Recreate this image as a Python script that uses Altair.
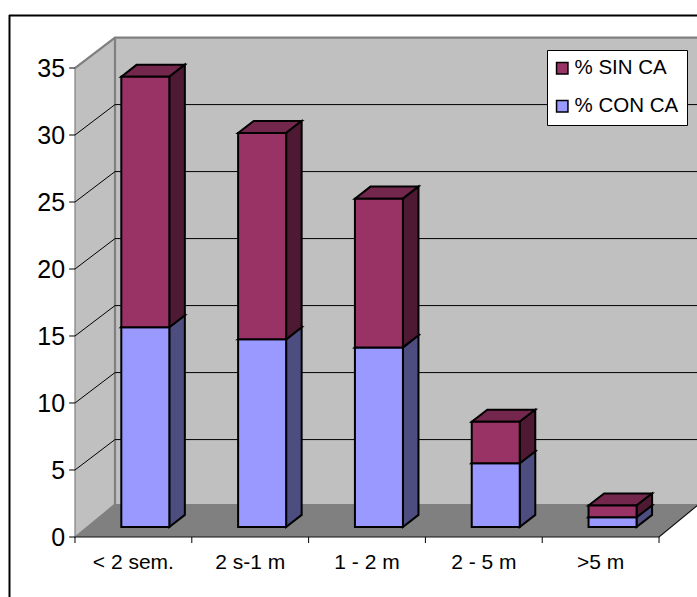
import altair as alt
import pandas as pd

# Chart values
categories = ["< 2 sem.", "2 s-1 m", "1 - 2 m", "2 - 5 m", ">5 m"]
con_ca = [14.9, 14.0, 13.4, 4.75, 0.72]
sin_ca = [18.7, 15.4, 11.1, 3.1, 0.88]
y_ticks = [0, 5, 10, 15, 20, 25, 30, 35]

FONT = "Liberation Sans"
WIDTH, HEIGHT = 697, 597

# Scale domains: one x unit is one category, y is in percent.
X_DOMAIN = [-0.642, 5.325]
Y_DOMAIN = [-4.478, 40.075]
x_scale = alt.Scale(domain=X_DOMAIN, nice=False, zero=False)
y_scale = alt.Scale(domain=Y_DOMAIN, nice=False, zero=False)

# Oblique projection of the chart box and of the columns inside it.
BOX_DX, BOX_DY = 0.3425, 2.27
FLOOR_DY = 2.46
BAR_DX, BAR_DY = 0.133, 0.9
BAR_W = 0.411
BAR_SHIFT = 0.102
BAR_LIFT = 0.75
Y_MAX = 35
N = len(categories)


def enc(x="x", y="y"):
    return dict(
        x=alt.X(x, type="quantitative", scale=x_scale, axis=None),
        y=alt.Y(y, type="quantitative", scale=y_scale, axis=None),
    )


# Back wall, left wall and floor
back_wall = alt.Chart(pd.DataFrame([{
    "x": BOX_DX, "x2": N + BOX_DX, "y": BOX_DY, "y2": Y_MAX + BOX_DY,
}])).mark_rect(fill="#C0C0C0", clip=True).encode(
    **enc(), x2="x2", y2="y2")

left_wall = alt.Chart(pd.DataFrame([
    {"x": 0, "y": 0, "y2": Y_MAX},
    {"x": BOX_DX, "y": FLOOR_DY, "y2": Y_MAX + BOX_DY},
])).mark_area(fill="#C0C0C0", stroke="#808080", strokeWidth=1.2).encode(
    **enc(), y2="y2")

floor = alt.Chart(pd.DataFrame([
    {"x": 0, "x2": N, "y": 0},
    {"x": BOX_DX, "x2": N + BOX_DX, "y": FLOOR_DY},
])).mark_area(orient="horizontal", fill="#808080", clip=True).encode(
    **enc(), x2="x2")

# Grey edges of the box
edge_rows = []
for i, pts in enumerate([
    [(0, Y_MAX), (BOX_DX, Y_MAX + BOX_DY), (N + BOX_DX, Y_MAX + BOX_DY)],
    [(BOX_DX, FLOOR_DY), (BOX_DX, Y_MAX + BOX_DY)],
]):
    for j, (px, py) in enumerate(pts):
        edge_rows.append({"id": i, "o": j, "x": px, "y": py})
edges = alt.Chart(pd.DataFrame(edge_rows)).mark_line(
    color="#808080", strokeWidth=2.2, clip=True
).encode(**enc(), detail="id:N", order="o:Q")

# Gridlines run across the left wall and then along the back wall
grid_rows = []
for v in y_ticks[1:-1]:
    grid_rows += [
        {"v": v, "o": 0, "x": 0, "y": v},
        {"v": v, "o": 1, "x": BOX_DX, "y": v + BOX_DY},
        {"v": v, "o": 2, "x": N + BOX_DX, "y": v + BOX_DY},
    ]
grid = alt.Chart(pd.DataFrame(grid_rows)).mark_line(
    color="#000000", strokeWidth=1, clip=True
).encode(**enc(), detail="v:N", order="o:Q")

# Floor edges along the category axis
axis_line = alt.Chart(pd.DataFrame([
    {"o": 0, "x": 0, "y": 0},
    {"o": 1, "x": N, "y": 0},
    {"o": 2, "x": N + BOX_DX, "y": FLOOR_DY},
])).mark_line(color="#111111", strokeWidth=1.2, clip=True).encode(
    **enc(), order="o:Q")

x_ticks = alt.Chart(pd.DataFrame(
    [{"x": i, "y": 0, "y2": -0.45} for i in range(N + 1)]
)).mark_rule(color="#000000", strokeWidth=1).encode(**enc(), y2="y2")

y_tick_marks = alt.Chart(pd.DataFrame(
    [{"x": -0.05, "x2": 0, "y": v} for v in y_ticks]
)).mark_rule(color="#000000", strokeWidth=1).encode(**enc(), x2="x2")

x_labels = alt.Chart(pd.DataFrame(
    [{"x": i + 0.5, "y": -2.39, "t": c} for i, c in enumerate(categories)]
)).mark_text(font=FONT, fontSize=21, align="center", baseline="alphabetic",
             color="#000000").encode(**enc(), text="t:N")

y_labels = alt.Chart(pd.DataFrame(
    [{"x": -0.085, "y": v, "t": str(v)} for v in y_ticks]
)).mark_text(font=FONT, fontSize=25, align="right", baseline="middle",
             dy=1, color="#000000").encode(**enc(), text="t:N")

# Column faces
SERIES = [
    ("% CON CA", "#9999FF", "#4D4D80", "#7373BF"),
    ("% SIN CA", "#993366", "#4D1933", "#73274D"),
]

front_rows, face_layers = [], []
outline = dict(stroke="#000000", strokeWidth=2, strokeJoin="miter")
for s, (name, front, side, top) in enumerate(SERIES):
    side_rows, top_rows = [], []
    for i in range(N):
        lo = con_ca[i] if s == 1 else 0
        hi = con_ca[i] + sin_ca[i] if s == 1 else con_ca[i]
        left = i + 0.5 + BAR_SHIFT - BAR_W / 2
        right = left + BAR_W
        front_rows.append({
            "series": name, "x": left, "x2": right,
            "y": lo + BAR_LIFT, "y2": hi + BAR_LIFT,
        })
        side_rows += [
            {"id": i, "x": right, "y": lo + BAR_LIFT, "y2": hi + BAR_LIFT},
            {"id": i, "x": right + BAR_DX, "y": lo + BAR_LIFT + BAR_DY,
             "y2": hi + BAR_LIFT + BAR_DY},
        ]
        top_rows += [
            {"id": i, "x": left, "x2": right, "y": hi + BAR_LIFT},
            {"id": i, "x": left + BAR_DX, "x2": right + BAR_DX,
             "y": hi + BAR_LIFT + BAR_DY},
        ]
    # Lower segments go first so the upper segment covers their top face
    face_layers.append(
        alt.Chart(pd.DataFrame(top_rows))
        .mark_area(orient="horizontal", fill=top, **outline)
        .encode(**enc(), x2="x2", detail="id:N"))
    face_layers.append(
        alt.Chart(pd.DataFrame(side_rows)).mark_area(fill=side, **outline)
        .encode(**enc(), y2="y2", detail="id:N"))

fronts = alt.Chart(pd.DataFrame(front_rows)).mark_rect(
    stroke="#000000", strokeWidth=2
).encode(
    **enc(), x2="x2", y2="y2",
    fill=alt.Fill(
        "series:N",
        scale=alt.Scale(domain=["% SIN CA", "% CON CA"],
                        range=["#993366", "#9999FF"]),
        legend=alt.Legend(
            orient="none", legendX=547, legendY=50, title=None,
            fillColor="#FFFFFF", strokeColor="#000000",
            padding=8, symbolType="square", symbolSize=130, symbolOffset=-3,
            symbolStrokeColor="#000000", symbolStrokeWidth=1.5,
            symbolOpacity=1, labelFont=FONT, labelFontSize=20.5,
            labelColor="#000000", labelOffset=2, rowPadding=17,
        ),
    ),
)

# Outer chart border: only its top and left sides fall inside the page
frame_top = alt.Chart(pd.DataFrame([{"a": 1}])).mark_rule(
    color="#000000", strokeWidth=2
).encode(x=alt.value(9), x2=alt.value(WIDTH), y=alt.value(15.5))
frame_left = alt.Chart(pd.DataFrame([{"a": 1}])).mark_rule(
    color="#000000", strokeWidth=2
).encode(x=alt.value(9.5), y=alt.value(15), y2=alt.value(HEIGHT))

chart = alt.layer(
    frame_top, frame_left,
    back_wall, left_wall, floor, edges, grid, axis_line,
    x_ticks, y_tick_marks, x_labels, y_labels,
    *face_layers, fronts,
).properties(
    width=WIDTH, height=HEIGHT, padding=0, autosize=alt.AutoSizeParams(type="none"),
    background="#FFFFFF",
).configure_view(stroke=None)

chart.save("out.html", embed_options={"renderer": "svg", "actions": False})
